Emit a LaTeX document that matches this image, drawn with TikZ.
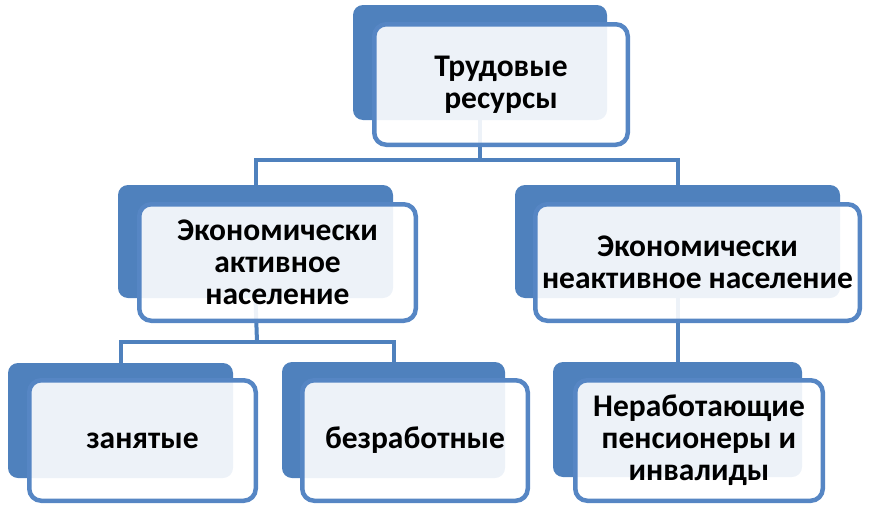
\documentclass[tikz,border=0pt]{standalone}
\usepackage{fontspec}
\setmainfont{Carlito}
\definecolor{boxblue}{HTML}{4F81BD}
\definecolor{edgeblue}{HTML}{5686C4}
\begin{document}
\begin{tikzpicture}[
    x=1pt, y=-1pt,
    backbox/.style={rectangle, rounded corners=10pt, fill=boxblue, draw=none, inner sep=0pt},
    frontbox/.style={rectangle, rounded corners=12pt, fill=white, fill opacity=0.9, text opacity=1,
        draw=edgeblue, line width=4.5pt, inner sep=0pt, align=center,
        font=\fontsize{31.5}{32}\selectfont\bfseries},
    conn/.style={draw=boxblue, line width=4pt}
]
    \useasboundingbox (0,0) rectangle (870,506);

    % back boxes
    \node[backbox, minimum width=254pt, minimum height=115pt] at (480,62.5) (res-b) {};
    \node[backbox, minimum width=275pt, minimum height=113pt] at (255.5,241.5) (act-b) {};
    \node[backbox, minimum width=325pt, minimum height=113pt] at (677.5,241.5) (inact-b) {};
    \node[backbox, minimum width=225pt, minimum height=115pt] at (120.5,420.5) (emp-b) {};
    \node[backbox, minimum width=223pt, minimum height=116pt] at (393.5,420) (unemp-b) {};
    \node[backbox, minimum width=249pt, minimum height=115pt] at (677.5,419.5) (pens-b) {};

    % connectors
    \coordinate (j1) at (480,160);
    \coordinate (j2) at (257,342);
    \draw[conn] (res-b.south) -- (j1);
    \draw[conn] (act-b.north) |- (j1) -| (inact-b.north);
    \draw[conn] (act-b.south) -- (j2);
    \draw[conn] (emp-b.north) |- (j2) -| (unemp-b.north);
    \draw[conn] (inact-b.south) -- (pens-b.north);

    % front boxes
    \node[frontbox, minimum width=253.5pt, minimum height=120.5pt] at (501,84.5) (res) {Трудовые\\ресурсы};
    \node[frontbox, minimum width=276.5pt, minimum height=116.5pt] at (277.5,262.5) (act) {Экономически\\активное\\население};
    \node[frontbox, minimum width=324.5pt, minimum height=116.5pt] at (697.5,262.5) (inact) {Экономически\\неактивное население};
    \node[frontbox, minimum width=226.5pt, minimum height=120.5pt] at (142.5,440.5) (emp) {занятые};
    \node[frontbox, minimum width=225.5pt, minimum height=120.5pt] at (415,440.5) (unemp) {безработные};
    \node[frontbox, minimum width=247.5pt, minimum height=120.5pt] at (699,440.5) (pens) {Неработающие\\пенсионеры и\\инвалиды};
\end{tikzpicture}
\end{document}
